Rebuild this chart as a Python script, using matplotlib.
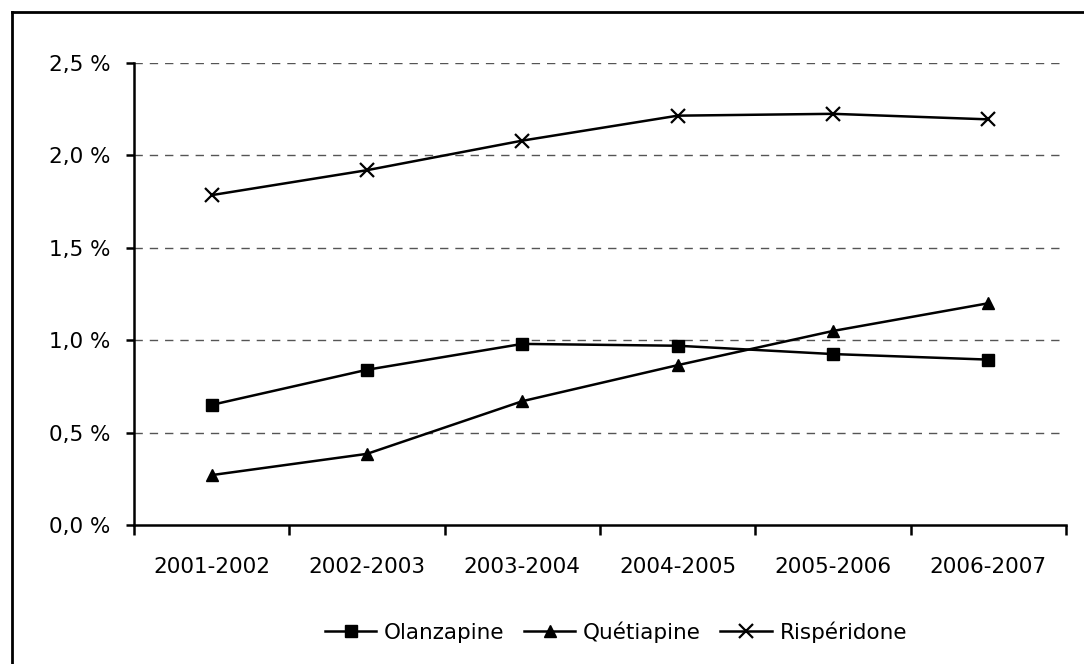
import matplotlib.pyplot as plt
from matplotlib.lines import Line2D

periods = ['2001-2002', '2002-2003', '2003-2004', '2004-2005', '2005-2006', '2006-2007']
olanzapine = [0.65, 0.84, 0.98, 0.97, 0.925, 0.895]
quetiapine = [0.27, 0.385, 0.67, 0.865, 1.05, 1.20]
risperidone = [1.785, 1.92, 2.08, 2.215, 2.225, 2.195]
yticks = [0.0, 0.5, 1.0, 1.5, 2.0, 2.5]

plt.rcParams['font.family'] = ['DejaVu Sans']
fs = 15.5

fig = plt.figure(figsize=(10.84, 6.64), dpi=100)
ax = fig.add_axes([134 / 1084, 1 - 525 / 664, (1066 - 134) / 1084, (525 - 63) / 664])

x = range(len(periods))
ax.plot(x, olanzapine, color='black', lw=1.8, marker='s', ms=8, label='Olanzapine')
ax.plot(x, quetiapine, color='black', lw=1.8, marker='^', ms=9, label='Quétiapine')
ax.plot(x, risperidone, color='black', lw=1.8, marker='x', ms=10, mew=1.6, label='Rispéridone')

ax.set_xlim(-0.5, len(periods) - 0.5)
ax.set_ylim(0, 2.5)
ax.set_yticks(yticks)
ax.set_yticklabels([f'{v:.1f} %'.replace('.', ',') for v in yticks], fontsize=fs)
ax.set_xticks([i - 0.5 for i in range(len(periods) + 1)])
ax.set_xticklabels([])
ax.set_xticks(list(x), minor=True)
ax.set_xticklabels(periods, minor=True, fontsize=fs)
ax.tick_params(axis='x', which='minor', length=0, pad=23)
ax.tick_params(axis='x', which='major', length=7, width=1.8, direction='out')
ax.tick_params(axis='y', length=6, width=1.8, direction='out', pad=11)

for v in yticks[1:]:
    ax.axhline(v, color='#555555', lw=1, ls=(0, (6, 5)), zorder=0)

for s in ['top', 'right']:
    ax.spines[s].set_visible(False)
for s in ['left', 'bottom']:
    ax.spines[s].set_linewidth(1.8)

ax.legend(loc='center', bbox_to_anchor=(0.517, -0.232), ncol=3, frameon=False,
          fontsize=fs, handlelength=2.4, columnspacing=0.9, handletextpad=0.35)

# outer frame (left and top edges visible)
fig.add_artist(Line2D([12 / 1084, 12 / 1084], [0, 1 - 12 / 664], color='black', lw=2,
                      transform=fig.transFigure))
fig.add_artist(Line2D([12 / 1084, 1], [1 - 12 / 664, 1 - 12 / 664], color='black', lw=2,
                      transform=fig.transFigure))

fig.savefig('out.png', dpi=100)
